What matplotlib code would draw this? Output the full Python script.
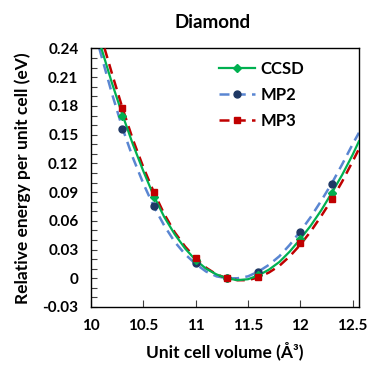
import matplotlib
matplotlib.use('Agg')
import matplotlib.pyplot as plt
from matplotlib.lines import Line2D
from matplotlib.ticker import MultipleLocator, FixedLocator

plt.rcParams['font.family'] = ['Lato', 'DejaVu Sans']
plt.rcParams['font.weight'] = 'bold'

# computed points (markers)
volume_pts = [10.3, 10.6, 11.0, 11.3, 11.6, 12.0, 12.3]
ccsd_pts = [0.170, 0.085, 0.019, 0.0, 0.003, 0.041, 0.089]
mp2_pts = [0.156, 0.076, 0.0155, 0.0, 0.0065, 0.048, 0.0985]
mp3_pts = [0.178, 0.090, 0.021, 0.0, 0.001, 0.0365, 0.083]

# fitted curves
ccsd_x = [10.10, 10.20, 10.30, 10.40, 10.50, 10.60, 10.70, 10.80, 10.90, 11.00,
          11.10, 11.20, 11.30, 11.40, 11.50, 11.60, 11.70, 11.80, 11.90, 12.00,
          12.10, 12.20, 12.30, 12.40, 12.50, 12.56]
ccsd_y = [0.240, 0.204, 0.171, 0.140, 0.112, 0.086, 0.064, 0.046, 0.031, 0.019,
          0.010, 0.004, 0.000, -0.002, -0.001, 0.003, 0.009, 0.017, 0.028, 0.041,
          0.055, 0.071, 0.089, 0.108, 0.129, 0.143]

mp2_x = [10.08, 10.10, 10.20, 10.30, 10.40, 10.50, 10.60, 10.70, 10.80, 10.90,
         11.00, 11.10, 11.20, 11.30, 11.40, 11.50, 11.60, 11.70, 11.80, 11.90,
         12.00, 12.10, 12.20, 12.30, 12.40, 12.50, 12.56]
mp2_y = [0.240, 0.232, 0.193, 0.157, 0.126, 0.099, 0.075, 0.055, 0.038, 0.025,
         0.015, 0.007, 0.002, 0.000, 0.000, 0.002, 0.007, 0.014, 0.023, 0.035,
         0.049, 0.064, 0.081, 0.099, 0.119, 0.140, 0.152]

mp3_x = [10.13, 10.20, 10.30, 10.40, 10.50, 10.60, 10.70, 10.80, 10.90, 11.00,
         11.10, 11.20, 11.30, 11.40, 11.50, 11.60, 11.70, 11.80, 11.90, 12.00,
         12.10, 12.20, 12.30, 12.40, 12.50, 12.56]
mp3_y = [0.240, 0.214, 0.178, 0.145, 0.116, 0.090, 0.067, 0.048, 0.033, 0.021,
         0.011, 0.004, 0.000, -0.002, -0.002, 0.001, 0.006, 0.013, 0.023, 0.035,
         0.049, 0.065, 0.082, 0.101, 0.122, 0.135]

x_ticks = [10, 10.5, 11, 11.5, 12, 12.5]
x_labels = ['10', '10.5', '11', '11.5', '12', '12.5']
y_ticks = [-0.03, 0, 0.03, 0.06, 0.09, 0.12, 0.15, 0.18, 0.21, 0.24]
y_labels = ['-0.03', '0', '0.03', '0.06', '0.09', '0.12', '0.15', '0.18', '0.21', '0.24']

green = '#00B050'
blue_line = '#5A86D2'
blue_mark = '#1F3864'
red = '#C00000'

fig = plt.figure(figsize=(3.88, 3.77), dpi=100)
ax = fig.add_axes([0.2345, 0.1857, 0.6905, 0.6857])

ax.plot(mp2_x, mp2_y, color=blue_line, lw=1.8, dashes=(4, 2.5), zorder=2)
ax.plot(mp3_x, mp3_y, color=red, lw=1.8, dashes=(4, 2.5), zorder=3)
ax.plot(ccsd_x, ccsd_y, color=green, lw=1.6, zorder=4)

ax.plot(volume_pts, mp2_pts, 'o', color=blue_mark, ms=5, zorder=5)
ax.plot(volume_pts, ccsd_pts, 'D', color=green, ms=4.5, zorder=6)
ax.plot(volume_pts, mp3_pts, 's', color=red, ms=4.5, zorder=7)

ax.set_xlim(10, 12.56)
ax.set_ylim(-0.03, 0.24)
ax.xaxis.set_major_locator(FixedLocator(x_ticks))
ax.yaxis.set_major_locator(FixedLocator(y_ticks))
ax.yaxis.set_minor_locator(MultipleLocator(0.01))
ax.set_xticklabels(x_labels)
ax.set_yticklabels(y_labels)
ax.tick_params(axis='both', which='both', direction='in', labelsize=11,
               width=0.8, color='#404040')
ax.tick_params(axis='x', which='major', length=5, pad=9)
ax.tick_params(axis='y', which='major', length=4, pad=9)
ax.tick_params(axis='y', which='minor', length=4)
for s in ax.spines.values():
    s.set_linewidth(1.0)
    s.set_color('black')

ax.set_xlabel('Unit cell volume (Å³)', fontsize=12.5, fontweight='bold', labelpad=6)
ax.set_ylabel('Relative energy per unit cell (eV)', fontsize=12.5, fontweight='bold', labelpad=8)
fig.text(0.548, 0.94, 'Diamond', ha='center', va='center', fontsize=13.5, fontweight='bold')

handles = [
    Line2D([], [], color=green, lw=1.6, marker='D', ms=4.5),
    Line2D([], [], color=blue_line, lw=1.8, dashes=(4, 2.5), marker='o', ms=5,
           markerfacecolor=blue_mark, markeredgecolor=blue_mark),
    Line2D([], [], color=red, lw=1.8, dashes=(4, 2.5), marker='s', ms=4.5),
]
ax.legend(handles, ['CCSD', 'MP2', 'MP3'], loc='upper left',
          bbox_to_anchor=(0.42, 1.01), frameon=False, fontsize=12,
          handlelength=2.2, handletextpad=0.3, labelspacing=0.6)

fig.savefig('out.png', dpi=100)
